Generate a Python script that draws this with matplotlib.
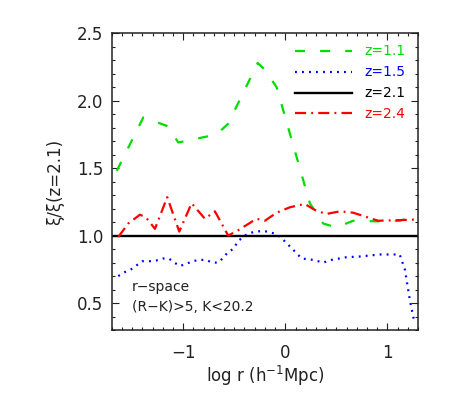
import matplotlib
matplotlib.use("Agg")
import matplotlib.pyplot as plt
from matplotlib.ticker import MultipleLocator

# z=1.1 (green dashed)
x_z11 = [-1.65, -1.39, -1.146, -1.048, -0.672, -0.559, -0.27, -0.20, -0.085, 0.24, 0.37, 0.50, 0.664, 0.893, 1.12, 1.30]
y_z11 = [1.48, 1.876, 1.81, 1.69, 1.75, 1.83, 2.28, 2.23, 2.10, 1.24, 1.09, 1.06, 1.11, 1.106, 1.11, 1.15]

# z=1.5 (blue dotted)
x_z15 = [-1.635, -1.57, -1.51, -1.455, -1.40, -1.33, -1.266, -1.20, -1.14, -1.087, -1.03, -0.973,
         -0.907, -0.842, -0.777, -0.715, -0.657, -0.608, -0.559, -0.51, -0.461, -0.396, -0.346,
         -0.281, -0.216, -0.15, -0.085, -0.036, 0.013, 0.16, 0.273, 0.371, 0.453, 0.60, 0.73,
         0.925, 1.12, 1.17, 1.22, 1.26]
y_z15 = [0.70, 0.73, 0.75, 0.78, 0.81, 0.81, 0.815, 0.83, 0.83, 0.80, 0.775, 0.79,
         0.81, 0.82, 0.82, 0.80, 0.80, 0.835, 0.88, 0.90, 0.96, 1.0, 1.02,
         1.03, 1.035, 1.025, 1.01, 0.98, 0.945, 0.83, 0.82, 0.80, 0.82, 0.84, 0.845,
         0.86, 0.86, 0.75, 0.52, 0.37]

# z=2.1 (black solid reference)
x_z21 = [-1.7, 1.3]
y_z21 = [1.0, 1.0]

# z=2.4 (red dash-dot)
x_z24 = [-1.635, -1.537, -1.423, -1.364, -1.276, -1.156, -1.038, -0.917, -0.787, -0.689, -0.559,
         -0.461, -0.281, -0.20, -0.085, 0.045, 0.19, 0.29, 0.40, 0.535, 0.664, 0.909, 1.12, 1.30]
y_z24 = [0.99, 1.09, 1.155, 1.135, 1.05, 1.285, 1.03, 1.24, 1.125, 1.18, 1.0,
         1.04, 1.125, 1.11, 1.17, 1.21, 1.235, 1.19, 1.16, 1.18, 1.17, 1.11, 1.115, 1.12]

labels = ["z=1.1", "z=1.5", "z=2.1", "z=2.4"]
note_lines = ["r\u2212space", "(R\u2212K)>5, K<20.2"]

fig = plt.figure(figsize=(4.52, 4.01), dpi=100)
ax = fig.add_axes([0.247, 0.177, 0.678, 0.740])

lw = 1.6
l1, = ax.plot(x_z11, y_z11, color="#00dd00", lw=lw, label=labels[0])
l1.set_dashes((4.5, 6.8))
l2, = ax.plot(x_z15, y_z15, color="#0000ff", lw=lw, label=labels[1])
l2.set_dashes((0.85, 2.3))
l3, = ax.plot(x_z21, y_z21, color="black", lw=1.7, label=labels[2])
l4, = ax.plot(x_z24, y_z24, color="#ff0000", lw=lw, label=labels[3])
l4.set_dashes((5.0, 2.3, 0.85, 2.3))

ax.set_xlim(-1.7, 1.3)
ax.set_ylim(0.3, 2.5)
ax.xaxis.set_major_locator(MultipleLocator(1))
ax.xaxis.set_minor_locator(MultipleLocator(0.1))
ax.yaxis.set_major_locator(MultipleLocator(0.5))
ax.yaxis.set_minor_locator(MultipleLocator(0.1))
ax.yaxis.set_major_formatter(matplotlib.ticker.FormatStrFormatter("%.1f"))

ax.tick_params(which="both", direction="in", top=True, right=True, width=0.8, labelsize=12,
               colors="#222222")
ax.tick_params(which="major", length=5)
ax.tick_params(which="minor", length=2.5)
ax.tick_params(axis="x", pad=10)
ax.tick_params(axis="y", pad=6)
for s in ax.spines.values():
    s.set_linewidth(1.1)
    s.set_color("#222222")

ax.set_xlabel("log r (h$^{-1}$Mpc)", fontsize=12, labelpad=1.5, color="#222222")
ax.set_ylabel("\u03be/\u03be(z=2.1)", fontsize=12, labelpad=9, color="#222222")

ax.text(0.065, 0.146, note_lines[0], transform=ax.transAxes, fontsize=10, va="center", ha="left",
        color="#222222")
ax.text(0.065, 0.079, note_lines[1], transform=ax.transAxes, fontsize=10, va="center", ha="left",
        color="#222222")

leg = ax.legend(loc="upper right", frameon=False, fontsize=10, handlelength=4.1,
                handletextpad=0.9, labelspacing=0.5, borderaxespad=0.3,
                labelcolor="linecolor", bbox_to_anchor=(0.99, 0.995))

fig.savefig("out.png", dpi=100)
